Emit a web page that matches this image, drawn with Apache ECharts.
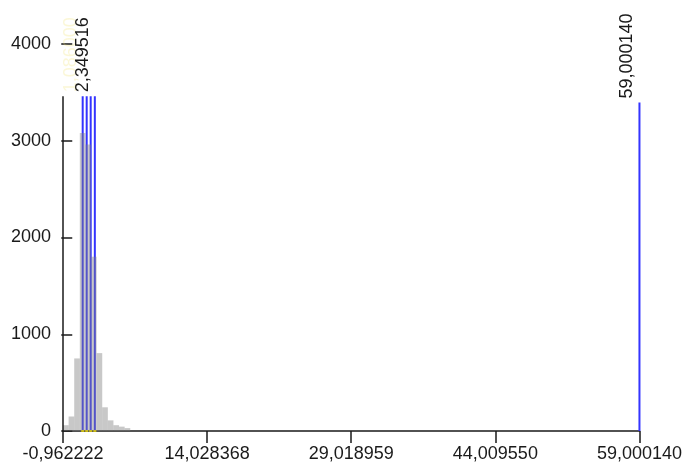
<!DOCTYPE html>
<html>
<head>
<meta charset="utf-8">
<script src="https://cdn.jsdelivr.net/npm/echarts@6/dist/echarts.min.js"></script>
<style>
  html, body { margin: 0; padding: 0; background: #fff; }
  #chart { width: 685px; height: 466px; }
</style>
</head>
<body>
<div id="chart"></div>
<script>
// Histogram: left edge of the first bin, bin width and count per bin
const binStart = -0.962222;
const binWidth = 0.583;
const binCounts = [60, 150, 750, 3080, 2960, 1800, 805, 245, 110, 60, 45, 30];

// Vertical marker lines: position, height and how the value label is shown
const markerValues = [1.086, 1.502, 1.918, 2.349516, 59.000140];
const markerHeights = [3460, 3460, 3460, 3460, 3395];
const markerLabels = ['faint', 'none', 'none', 'full', 'full'];

// Axis tick values
const xTicks = [-0.962222, 14.028368, 29.018959, 44.009550, 59.000140];
const yTicks = [0, 1000, 2000, 3000, 4000];
const yInnerTicks = [0, 1000, 2000, 3000];
const yAxisLineTop = 3460;

const FONT = '"Liberation Sans", Arial, sans-serif';
const INK = '#1a1a1a';
const fmt = v => Number(v).toFixed(6).replace('.', ',');

const binData = binCounts.map((c, i) => [binStart + i * binWidth, binStart + (i + 1) * binWidth, c]);
const markerData = markerValues.map((v, i) => [v, markerHeights[i], i]);

const chart = echarts.init(document.getElementById('chart'), null, { renderer: 'canvas' });

chart.setOption({
  animation: false,
  backgroundColor: '#fff',
  grid: { left: 63, right: 45, top: 44, bottom: 35, containLabel: false },
  xAxis: {
    type: 'value',
    min: xTicks[0],
    max: xTicks[xTicks.length - 1],
    axisLine: { show: true, lineStyle: { color: INK, width: 1.5 } },
    splitLine: { show: false },
    axisTick: { show: true, length: 12, customValues: xTicks, lineStyle: { color: INK, width: 1.5 } },
    axisLabel: {
      customValues: xTicks,
      formatter: fmt,
      margin: 14,
      fontSize: 18,
      fontFamily: FONT,
      color: INK,
      hideOverlap: false
    }
  },
  yAxis: [
    {
      type: 'value',
      min: 0,
      max: 4000,
      interval: 1000,
      axisLine: { show: false },
      splitLine: { show: false },
      axisTick: { show: true, length: 11, customValues: yTicks, lineStyle: { color: INK, width: 1.5 } },
      axisLabel: {
        customValues: yTicks,
        formatter: v => String(v),
        margin: 12,
        fontSize: 18,
        fontFamily: FONT,
        color: INK
      }
    },
    {
      type: 'value',
      min: 0,
      max: 4000,
      interval: 1000,
      position: 'left',
      axisLine: { show: false },
      splitLine: { show: false },
      axisLabel: { show: false },
      axisTick: { show: true, inside: true, length: 7, customValues: yInnerTicks, lineStyle: { color: INK, width: 1.5 } }
    }
  ],
  series: [
    {
      // vertical marker lines with rotated value labels
      type: 'custom',
      z: 1,
      clip: false,
      data: markerData,
      encode: { x: 0, y: 1 },
      renderItem: function (params, api) {
        const v = api.value(0);
        const h = api.value(1);
        const i = api.value(2);
        const top = api.coord([v, h]);
        const base = api.coord([v, 0]);
        const children = [{
          type: 'line',
          shape: { x1: top[0], y1: top[1], x2: base[0], y2: base[1] },
          style: { stroke: '#3434ff', lineWidth: 2 }
        }];
        const mode = markerLabels[i];
        if (mode !== 'none') {
          children.push({
            type: 'text',
            x: top[0] - 12,
            y: top[1] - 4,
            rotation: Math.PI / 2,
            style: {
              text: fmt(markerValues[i]),
              fontSize: 18,
              fontFamily: FONT,
              fill: mode === 'full' ? INK : 'rgba(240,228,110,0.28)',
              align: 'left',
              verticalAlign: 'middle'
            }
          });
        }
        return { type: 'group', children: children };
      }
    },
    {
      // histogram bars
      type: 'custom',
      z: 2,
      data: binData,
      encode: { x: [0, 1], y: 2 },
      renderItem: function (params, api) {
        const p0 = api.coord([api.value(0), api.value(2)]);
        const p1 = api.coord([api.value(1), 0]);
        return {
          type: 'rect',
          shape: { x: p0[0], y: p0[1], width: p1[0] - p0[0], height: p1[1] - p0[1] },
          style: { fill: 'rgba(128,128,128,0.43)' }
        };
      }
    },
    {
      // small yellow feet of the marker lines on the x axis
      type: 'scatter',
      z: 3,
      symbol: 'rect',
      symbolSize: [3, 2],
      itemStyle: { color: '#e8d400' },
      data: markerValues.slice(0, 4).map(v => [v, 0])
    },
    {
      // vertical axis line
      type: 'line',
      z: 3,
      symbol: 'none',
      lineStyle: { color: INK, width: 1.5 },
      data: [[xTicks[0], 0], [xTicks[0], yAxisLineTop]]
    }
  ]
});
</script>
</body>
</html>
